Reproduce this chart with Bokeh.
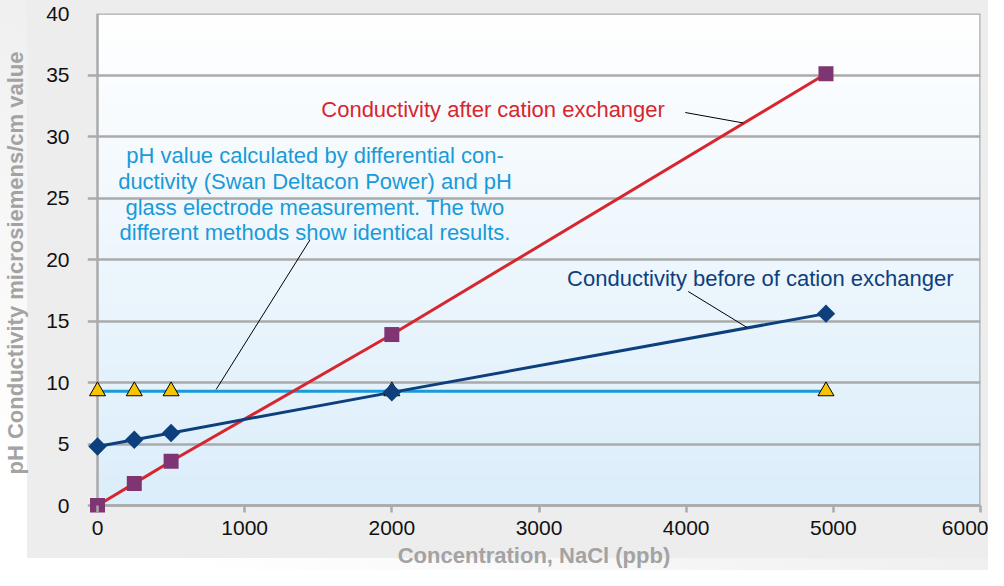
import numpy as np
from bokeh.plotting import figure
from bokeh.models import Range1d, FixedTicker
from bokeh.core.properties import value
from bokeh.embed import file_html
from bokeh.resources import INLINE

# ---- data ----
conc = [0, 250, 500, 2000, 4950]                 # NaCl concentration (ppb)
cond_after = [0.0, 1.8, 3.6, 13.9, 35.1]          # conductivity after cation exchanger
cond_before = [4.8, 5.35, 5.9, 9.2, 15.6]         # conductivity before cation exchanger
ph_value = [9.3, 9.3, 9.3, 9.3, 9.3]              # pH value
x_ticks = [0, 1000, 2000, 3000, 4000, 5000, 6000]
y_ticks = [0, 5, 10, 15, 20, 25, 30, 35, 40]

label_after = "Conductivity after cation exchanger"
label_before = "Conductivity before of cation exchanger"
label_ph = ("pH value calculated by differential con-\n"
            "ductivity (Swan Deltacon Power) and pH\n"
            "glass electrode measurement. The two\n"
            "different methods show identical results.")

X_MIN, X_MAX = 0, 6000
Y_MIN, Y_MAX = 0, 40
# small padding so that markers on the axes are not clipped (styling only)
X_PAD = 68
Y_PAD = 0.567

FONT = "Liberation Sans"
GRID = "#aaaaaa"
PANEL = "#ededed"
RED = "#d7262e"
NAVY = "#0d3f7d"
LBLUE = "#1a9ad8"
PURPLE = "#7e3571"
YELLOW = "#f6c400"
TITLE_GREY = "#a3a3a3"

p = figure(width=988, height=570, output_backend="svg", toolbar_location=None,
           x_range=Range1d(X_MIN - X_PAD, X_MAX), y_range=Range1d(Y_MIN - Y_PAD, Y_MAX),
           min_border_left=87, min_border_right=8, min_border_top=13,
           min_border_bottom=56)

p.border_fill_color = None
p.styles = {"background":
            "linear-gradient(#ededed,#ededed) 27px 0 / calc(100% - 27px) 558px no-repeat, "
            "linear-gradient(to top right, #ffffff 10%, #ececec 60%)"}
p.background_fill_color = PANEL
p.outline_line_color = None

# background gradient inside the plot box (white at top to pale blue at bottom)
n = 200
rgba = np.zeros((n, 1, 4), dtype=np.uint8)
t = np.linspace(0, 1, n)[:, None]  # 0 bottom -> 1 top
bottom = np.array([220, 238, 251])
top = np.array([255, 255, 255])
col = bottom + (top - bottom) * t
rgba[:, 0, 0] = col[:, 0]
rgba[:, 0, 1] = col[:, 1]
rgba[:, 0, 2] = col[:, 2]
rgba[:, 0, 3] = 255
img = rgba.view(dtype=np.uint32).reshape((n, 1))
p.image_rgba(image=[img], x=X_MIN, y=Y_MIN, dw=X_MAX - X_MIN, dh=Y_MAX - Y_MIN, level="image")

# plot box border
p.quad(left=[X_MIN], right=[X_MAX], bottom=[Y_MIN], top=[Y_MAX],
       fill_color=None, line_color=GRID, line_width=2.5)

# axes
p.xaxis.ticker = FixedTicker(ticks=x_ticks)
p.yaxis.ticker = FixedTicker(ticks=y_ticks)
for ax in (p.xaxis[0], p.yaxis[0]):
    ax.axis_line_color = None
    ax.minor_tick_line_color = None
    ax.major_label_text_font = FONT
    ax.major_label_text_font_size = "21px"
    ax.major_label_text_color = "#111111"
    ax.axis_label_text_font = FONT
    ax.axis_label_text_font_size = "22px"
    ax.axis_label_text_font_style = "bold"
    ax.axis_label_text_color = TITLE_GREY
p.xaxis.major_tick_line_color = GRID
p.xaxis.major_tick_line_width = 2.5
p.xaxis.major_tick_out = 0
p.xaxis.major_tick_in = 7
p.yaxis.major_tick_line_color = None
p.xaxis.major_label_standoff = 8
p.yaxis.major_label_standoff = 12
p.xaxis.axis_label = "Concentration, NaCl (ppb)"
p.yaxis.axis_label = "pH Conductivity microsiemens/cm value"
p.xaxis.axis_label_standoff = 5
p.yaxis.axis_label_standoff = 15

p.xgrid.grid_line_color = None
p.ygrid.grid_line_color = GRID
p.ygrid.grid_line_width = 2.5

# lines
p.line(conc, ph_value, line_color=LBLUE, line_width=3)
p.line(conc, cond_after, line_color=RED, line_width=3)
p.line(conc, cond_before, line_color=NAVY, line_width=3)

# markers
p.scatter(conc, ph_value, marker="triangle", size=16, fill_color=YELLOW,
          line_color="#000000", line_width=1)
p.scatter(conc, cond_after, marker="square", size=15, fill_color=PURPLE, line_color=None)
p.scatter(conc, cond_before, marker="square", angle=np.pi / 4, size=13,
          fill_color=NAVY, line_color=None)

# annotations
p.text(x=[2688], y=[32.2], text=[label_after], text_color=RED,
       text_font=value(FONT), text_font_size="22px",
       text_align="center", text_baseline="middle")
p.segment(x0=[3994], y0=[31.95], x1=[4388], y1=[31.1], line_color="black", line_width=1)

p.text(x=[1478], y=[25.3], text=[label_ph], text_color=LBLUE,
       text_font=value(FONT), text_font_size="22px", text_line_height=1.03,
       text_align="center", text_baseline="middle")
p.segment(x0=[1444], y0=[21.6], x1=[806], y1=[9.43], line_color="black", line_width=1)

p.text(x=[4504], y=[18.46], text=[label_before], text_color=NAVY,
       text_font=value(FONT), text_font_size="22px",
       text_align="center", text_baseline="middle")
p.segment(x0=[4014], y0=[17.4], x1=[4414], y1=[14.47], line_color="black", line_width=1)

open("out.html", "w").write(file_html(p, INLINE))
